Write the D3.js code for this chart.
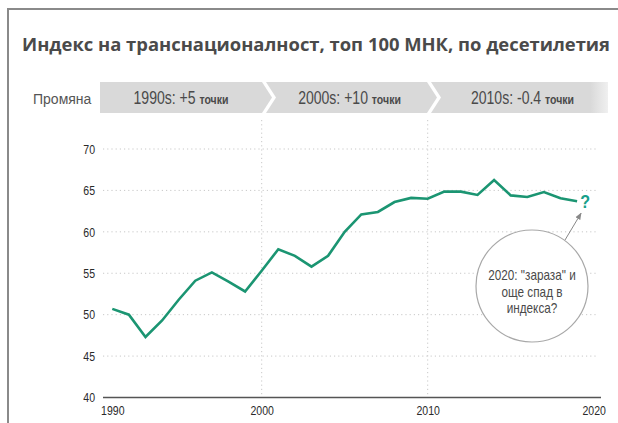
<!DOCTYPE html>
<html>
<head>
<meta charset="utf-8">
<script src="https://cdn.jsdelivr.net/npm/d3@7"></script>
<style>
  html, body { margin: 0; padding: 0; background: #fff; }
  svg { display: block; }
</style>
</head>
<body>
<svg id="chart" width="618" height="423"></svg>
<script>
// Transnationality index of the top 100 MNEs, yearly values
const years = [1991, 1992, 1993, 1994, 1995, 1996, 1997, 1998, 1999, 2000,
               2001, 2002, 2003, 2004, 2005, 2006, 2007, 2008, 2009, 2010,
               2011, 2012, 2013, 2014, 2015, 2016, 2017, 2018, 2019];
const tniValues = [50.7, 50.0, 47.3, 49.3, 51.8, 54.1, 55.1, 54.0, 52.8, 55.3,
                   57.9, 57.1, 55.8, 57.1, 60.0, 62.1, 62.4, 63.6, 64.1, 64.0,
                   64.85, 64.85, 64.45, 66.26, 64.4, 64.2, 64.8, 64.05, 63.7];

// x-axis ticks and their printed labels
const xTickYears = [1991, 2000, 2010, 2020];
const xTickLabels = ["1990", "2000", "2010", "2020"];
const xGridYears = [2000, 2010];
const yTicks = [40, 45, 50, 55, 60, 65, 70];

// decade change banner
const decadeLabels = ["1990s: +5", "2000s: +10", "2010s: -0.4"];
const decadeUnit = "точки";

const title = "Индекс на транснационалност, топ 100 МНК, по десетилетия";
const noteLines = ["2020: \"зараза\" и", "още спад в", "индекса?"];

const sans = "'Liberation Sans', Arial, sans-serif";
const squeeze = 0.8;           // horizontal scale giving a narrow face
const txt = "#4a4a4a";
const green = "#1b9572";

const svg = d3.select("#chart");

// narrow text: Liberation Sans squeezed horizontally around its anchor
function narrowText(parent, px, py, str, size, anchor, sx = squeeze) {
  const g = parent.append("g").attr("transform", `translate(${px},${py}) scale(${sx},1)`);
  return g.append("text").attr("text-anchor", anchor || "start")
    .attr("font-family", sans).attr("font-size", size).attr("fill", txt).text(str);
}

// frame
svg.append("line").attr("x1", 8).attr("x2", 618).attr("y1", 9).attr("y2", 9)
  .attr("stroke", "#8a8a8a").attr("stroke-width", 2);
svg.append("line").attr("x1", 8).attr("x2", 8).attr("y1", 8).attr("y2", 423)
  .attr("stroke", "#8a8a8a").attr("stroke-width", 2);

// title
svg.append("text").attr("x", 22).attr("y", 51)
  .attr("font-family", "'Open Sans', sans-serif").attr("font-weight", 700)
  .attr("font-size", 18.4).attr("fill", "#4a4a4a").text(title);

// banner
svg.append("text").attr("x", 33).attr("y", 104)
  .attr("font-family", sans).attr("font-size", 14)
  .attr("fill", "#555").text("Промяна");

const defs = svg.append("defs");
const fade = defs.append("linearGradient").attr("id", "fadeRight")
  .attr("x1", "0").attr("x2", "1").attr("y1", "0").attr("y2", "0");
fade.append("stop").attr("offset", "0.9").attr("stop-color", "#d9d9d9");
fade.append("stop").attr("offset", "1").attr("stop-color", "#d9d9d9").attr("stop-opacity", 0.4);

const bandTop = 82, bandBot = 113, bandMid = (bandTop + bandBot) / 2, tip = 10;
const segEdges = [100, 266, 431, 612];
decadeLabels.forEach((lab, i) => {
  const x0 = segEdges[i], x1 = segEdges[i + 1] - 4;
  const last = i === decadeLabels.length - 1;
  let p = `M${x0},${bandTop} L${x1},${bandTop} `;
  p += last ? `L${x1},${bandBot} ` : `L${x1 + tip},${bandMid} L${x1},${bandBot} `;
  p += `L${x0},${bandBot} `;
  if (i > 0) p += `L${x0 + tip},${bandMid} `;
  p += "Z";
  svg.append("path").attr("d", p)
    .attr("fill", last ? "url(#fadeRight)" : "#d9d9d9");
  const cx = (x0 + x1) / 2 + (i > 0 ? 3 : 0);
  const t = narrowText(svg, cx, 103.5, null, 18, "middle", 0.78);
  t.append("tspan").text(lab + " ");
  t.append("tspan").attr("font-weight", 700).attr("font-size", 13.5).text(decadeUnit);
});

// scales
const plotLeft = 103, plotRight = 601;
const x = d3.scaleLinear().domain([1991, 2020]).range([112.3, 593.7]);
const y = d3.scaleLinear().domain([40, 70]).range([397.5, 149]);

// grid
const grid = svg.append("g").attr("stroke", "#c8c8c8").attr("stroke-width", 1)
  .attr("stroke-dasharray", "1.2,3");
grid.selectAll("line.h").data(yTicks.filter(d => d > 40)).join("line")
  .attr("x1", plotLeft).attr("x2", 598)
  .attr("y1", d => y(d)).attr("y2", d => y(d));
grid.selectAll("line.v").data(xGridYears).join("line")
  .attr("x1", d => x(d)).attr("x2", d => x(d))
  .attr("y1", 120).attr("y2", y(40));

// y axis labels
const yAxis = d3.axisLeft(y).tickValues(yTicks).tickSize(0).tickPadding(0);
const gy = svg.append("g").attr("transform", `translate(95,0)`).call(yAxis);
gy.select(".domain").remove();
gy.selectAll("text").attr("font-family", sans).attr("font-size", 13.5).attr("fill", "#2a2a2a")
  .attr("transform", "scale(0.78,1)");

// x axis
const xAxis = d3.axisBottom(x).tickValues(xTickYears)
  .tickFormat((d, i) => xTickLabels[i]).tickSize(0).tickPadding(8);
const gx = svg.append("g").attr("transform", `translate(0,${y(40)})`).call(xAxis);
gx.select(".domain").remove();
gx.selectAll("text").attr("font-family", sans).attr("font-size", 13.5).attr("fill", "#2a2a2a")
  .attr("transform", "scale(0.78,1)");
svg.append("line").attr("x1", plotLeft).attr("x2", plotRight)
  .attr("y1", y(40)).attr("y2", y(40)).attr("stroke", "#555").attr("stroke-width", 1.5);

// series line
const line = d3.line().x((d, i) => x(years[i])).y(d => y(d));
svg.append("path").datum(tniValues).attr("d", line)
  .attr("fill", "none").attr("stroke", green).attr("stroke-width", 2.6)
  .attr("stroke-linejoin", "miter");

// question mark after the last point
const lastYear = years[years.length - 1], lastVal = tniValues[tniValues.length - 1];
narrowText(svg, x(lastYear) + 8, y(lastVal) + 7, "?", 19, "middle", 0.85)
  .attr("font-weight", 700).attr("fill", "#17a08a");

// annotation bubble with arrow
defs.append("marker").attr("id", "arrowHead").attr("viewBox", "0 0 10 10")
  .attr("refX", 9).attr("refY", 5).attr("markerWidth", 7).attr("markerHeight", 7)
  .attr("orient", "auto")
  .append("path").attr("d", "M0,1 L10,5 L0,9 Z").attr("fill", "#888");

const bub = { cx: 532, cy: 286, r: 56 };
svg.append("line").attr("x1", 565).attr("y1", 240)
  .attr("x2", x(lastYear) + 4).attr("y2", y(lastVal) + 12)
  .attr("stroke", "#888").attr("stroke-width", 1).attr("marker-end", "url(#arrowHead)");
svg.append("circle").attr("cx", bub.cx).attr("cy", bub.cy).attr("r", bub.r)
  .attr("fill", "#fff").attr("stroke", "#a8a8a8").attr("stroke-width", 1.2);
noteLines.forEach((d, i) => narrowText(svg, bub.cx, 280 + i * 16.5, d, 14, "middle", 0.84));
</script>
</body>
</html>
